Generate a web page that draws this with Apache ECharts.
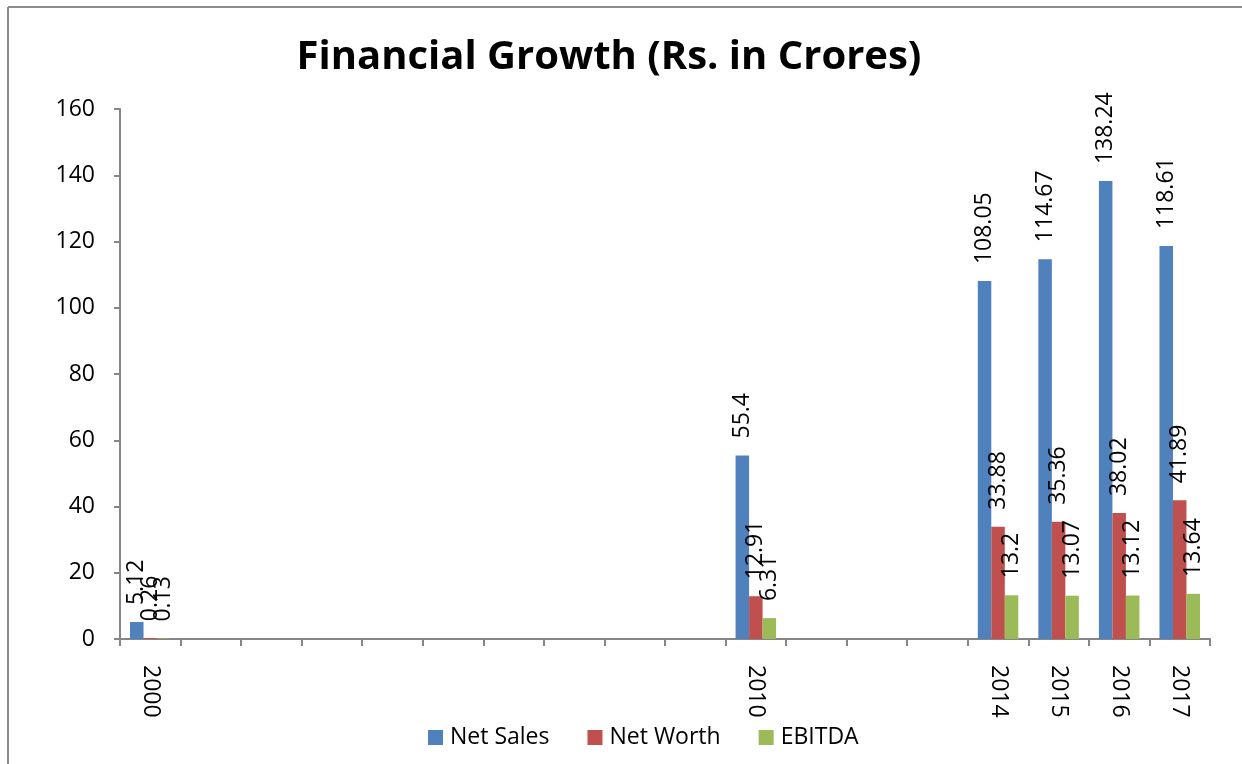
<!DOCTYPE html>
<html>
<head>
<meta charset="utf-8">
<script src="https://cdn.jsdelivr.net/npm/echarts@6/dist/echarts.min.js"></script>
<style>
html,body{margin:0;padding:0;background:#fff;}
#chart{width:1242px;height:764px;}
</style>
</head>
<body>
<div id="chart"></div>
<script>
const categories = ["2000","","","","","","","","","","2010","","","","2014","2015","2016","2017"];
const netSales  = [5.12,null,null,null,null,null,null,null,null,null,55.4,null,null,null,108.05,114.67,138.24,118.61];
const netWorth  = [0.26,null,null,null,null,null,null,null,null,null,12.91,null,null,null,33.88,35.36,38.02,41.89];
const ebitda    = [0.13,null,null,null,null,null,null,null,null,null,6.31,null,null,null,13.2,13.07,13.12,13.64];
const seriesNames = ["Net Sales","Net Worth","EBITDA"];
const yTicks = [0,20,40,60,80,100,120,140,160];

const FONT = "Open Sans";
const chart = echarts.init(document.getElementById('chart'), null, {renderer:'canvas'});

const labelCfg = {
  show: true,
  position: 'top',
  rotate: 90,
  align: 'left',
  verticalAlign: 'middle',
  distance: 17,
  fontFamily: FONT,
  fontSize: 23,
  color: '#000'
};

function mk(name, data, color){
  return {
    name: name, type: 'bar', data: data,
    barWidth: '22.3%', barGap: '0%',
    itemStyle: {color: color},
    label: labelCfg
  };
}

chart.setOption({
  animation: false,
  backgroundColor: '#fff',
  title: {
    text: 'Financial Growth (Rs. in Crores)',
    left: 604, top: 33, textAlign: 'center',
    textStyle: {fontFamily: FONT, fontWeight: 'bold', fontSize: 40, color: '#000'}
  },
  legend: {
    data: seriesNames,
    bottom: 10, left: 423,
    itemWidth: 15, itemHeight: 15, itemGap: 38,
    icon: 'rect',
    textStyle: {fontFamily: FONT, fontSize: 23, color: '#000', padding: [0,0,0,2]}
  },
  grid: {left: 120, right: 32, top: 109, bottom: 125, containLabel: false},
  xAxis: {
    type: 'category', data: categories,
    axisLine: {lineStyle: {color: '#868686', width: 2}},
    axisTick: {show: true, length: 7, lineStyle: {color: '#868686', width: 2}},
    axisLabel: {interval: 0, rotate: -90, margin: 26, fontFamily: FONT, fontSize: 23, color: '#000'}
  },
  yAxis: {
    type: 'value', min: yTicks[0], max: yTicks[yTicks.length-1], interval: 20,
    axisLine: {show: true, lineStyle: {color: '#868686', width: 2}},
    axisTick: {show: true, length: 6, lineStyle: {color: '#868686', width: 2}},
    splitLine: {show: false},
    axisLabel: {margin: 25, fontFamily: FONT, fontSize: 23, color: '#000'}
  },
  series: [
    mk(seriesNames[0], netSales, '#4F81BD'),
    mk(seriesNames[1], netWorth, '#C0504D'),
    mk(seriesNames[2], ebitda, '#9BBB59')
  ],
  graphic: [
    {type:'line', shape:{x1:8, y1:7, x2:1242, y2:7}, style:{stroke:'#8c8c8c', lineWidth:2}},
    {type:'line', shape:{x1:8, y1:7, x2:8, y2:764}, style:{stroke:'#8c8c8c', lineWidth:2}}
  ]
});
</script>
</body>
</html>
